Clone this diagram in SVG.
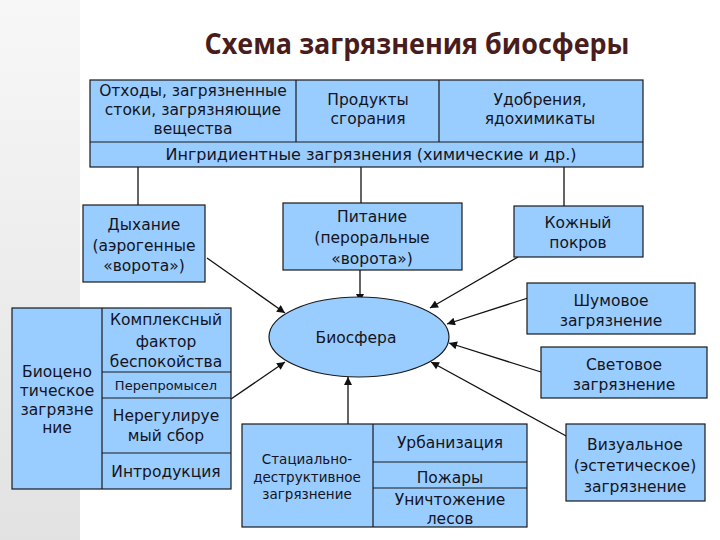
<svg xmlns="http://www.w3.org/2000/svg" width="720" height="540" viewBox="0 0 720 540">
  <defs>
    <linearGradient id="strip" x1="0" y1="0" x2="0" y2="1">
      <stop offset="0" stop-color="#f7f7f7"/>
      <stop offset="1" stop-color="#e2e2e2"/>
    </linearGradient>
    <marker id="arr" viewBox="0 0 10 10" refX="10" refY="5" markerWidth="9" markerHeight="8" markerUnits="userSpaceOnUse" orient="auto">
      <path d="M0,0 L10,5 L0,10 z" fill="#111"/>
    </marker>
    <style>
      .box { fill: #99ccff; stroke: #1a1a1a; stroke-width: 1.2; }
      .div { stroke: #1a1a1a; stroke-width: 1.2; fill: none; }
      .t { font-family: "DejaVu Sans", "Liberation Sans", sans-serif; font-size: 15.5px; fill: #141420; text-anchor: middle; }
      .s { font-size: 13.5px; }
      .w { font-size: 16px; }
      .title { font-family: "Open Sans", "DejaVu Sans", sans-serif; font-weight: bold; font-size: 28px; fill: #4a1d1d; text-anchor: middle; }
      .ln { stroke: #111; stroke-width: 1.3; fill: none; }
      .ar { stroke: #111; stroke-width: 1.3; fill: none; marker-end: url(#arr); }
    </style>
  </defs>

  <rect x="0" y="0" width="720" height="540" fill="#ffffff"/>
  <rect x="0" y="0" width="80" height="540" fill="url(#strip)"/>

  <text class="title" x="417" y="54" textLength="425" lengthAdjust="spacingAndGlyphs">Схема загрязнения биосферы</text>

  <g id="connectors">
    <line class="ln" x1="138" y1="167" x2="138" y2="205"/>
    <line class="ln" x1="361" y1="167" x2="361" y2="203"/>
    <line class="ln" x1="564" y1="167" x2="564" y2="206"/>
    <line class="ar" x1="207" y1="258" x2="285" y2="313"/>
    <line class="ar" x1="360" y1="270" x2="360" y2="302"/>
    <line class="ar" x1="518" y1="257" x2="430" y2="308"/>
    <line class="ar" x1="528" y1="298" x2="447" y2="324"/>
    <line class="ar" x1="541" y1="372" x2="449" y2="343"/>
    <line class="ar" x1="568" y1="437" x2="431" y2="362"/>
    <line class="ar" x1="348" y1="424" x2="348" y2="377"/>
    <line class="ar" x1="231" y1="399" x2="285" y2="362"/>
  </g>

  <g id="ingredient-table">
    <rect class="box" x="90" y="80" width="553" height="87"/>
    <line class="div" x1="90" y1="142" x2="643" y2="142"/>
    <line class="div" x1="296" y1="80" x2="296" y2="142"/>
    <line class="div" x1="439" y1="80" x2="439" y2="142"/>
    <text class="t" x="193" y="96">Отходы, загрязненные</text>
    <text class="t" x="193" y="115">стоки, загрязняющие</text>
    <text class="t" x="193" y="134">вещества</text>
    <text class="t" x="368" y="105">Продукты</text>
    <text class="t" x="368" y="124">сгорания</text>
    <text class="t" x="540" y="105">Удобрения,</text>
    <text class="t" x="540" y="124">ядохимикаты</text>
    <text class="t w" x="371" y="160">Ингридиентные загрязнения (химические и др.)</text>
  </g>

  <g id="dykhanie">
    <rect class="box" x="83" y="205" width="122" height="77"/>
    <text class="t" x="144" y="230">Дыхание</text>
    <text class="t" x="144" y="251">(аэрогенные</text>
    <text class="t" x="144" y="271">«ворота»)</text>
  </g>

  <g id="pitanie">
    <rect class="box" x="283" y="203" width="179" height="67"/>
    <text class="t" x="372" y="222">Питание</text>
    <text class="t" x="372" y="243">(пероральные</text>
    <text class="t" x="372" y="264">«ворота»)</text>
  </g>

  <g id="kozhny">
    <rect class="box" x="514" y="206" width="129" height="51"/>
    <text class="t" x="578" y="228">Кожный</text>
    <text class="t" x="578" y="248">покров</text>
  </g>

  <g id="shumovoe">
    <rect class="box" x="527" y="283" width="168" height="51"/>
    <text class="t" x="611" y="306">Шумовое</text>
    <text class="t" x="611" y="326">загрязнение</text>
  </g>

  <g id="svetovoe">
    <rect class="box" x="541" y="347" width="166" height="51"/>
    <text class="t" x="624" y="370">Световое</text>
    <text class="t" x="624" y="390">загрязнение</text>
  </g>

  <g id="vizualnoe">
    <rect class="box" x="566" y="424" width="139" height="77"/>
    <text class="t" x="635" y="450">Визуальное</text>
    <text class="t" x="635" y="471">(эстетическое)</text>
    <text class="t" x="635" y="492">загрязнение</text>
  </g>

  <g id="biosfera">
    <ellipse class="box" cx="359" cy="337" rx="90" ry="40"/>
    <text class="t" x="356" y="343">Биосфера</text>
  </g>

  <g id="biocenotic-table">
    <rect class="box" x="12" y="308" width="219" height="181"/>
    <line class="div" x1="102" y1="308" x2="102" y2="489"/>
    <line class="div" x1="102" y1="372" x2="231" y2="372"/>
    <line class="div" x1="102" y1="398" x2="231" y2="398"/>
    <line class="div" x1="102" y1="453" x2="231" y2="453"/>
    <text class="t" x="57" y="377">Биоцено</text>
    <text class="t" x="57" y="396">тическое</text>
    <text class="t" x="57" y="415">загрязне</text>
    <text class="t" x="57" y="433">ние</text>
    <text class="t" x="166" y="325">Комплексный</text>
    <text class="t" x="166" y="347">фактор</text>
    <text class="t" x="166" y="367">беспокойства</text>
    <text class="t" x="166" y="390" style="font-size:13px">Перепромысел</text>
    <text class="t" x="166" y="421">Нерегулируе</text>
    <text class="t" x="166" y="441">мый сбор</text>
    <text class="t" x="166" y="477">Интродукция</text>
  </g>

  <g id="stacialno-table">
    <rect class="box" x="242" y="424" width="285" height="103"/>
    <line class="div" x1="373" y1="424" x2="373" y2="527"/>
    <line class="div" x1="373" y1="462" x2="527" y2="462"/>
    <line class="div" x1="373" y1="488" x2="527" y2="488"/>
    <text class="t s" x="307" y="464">Стациально-</text>
    <text class="t s" x="307" y="482">деструктивное</text>
    <text class="t s" x="307" y="499">загрязнение</text>
    <text class="t" x="450" y="448">Урбанизация</text>
    <text class="t" x="450" y="483">Пожары</text>
    <text class="t" x="450" y="505">Уничтожение</text>
    <text class="t" x="450" y="524">лесов</text>
  </g>
</svg>
